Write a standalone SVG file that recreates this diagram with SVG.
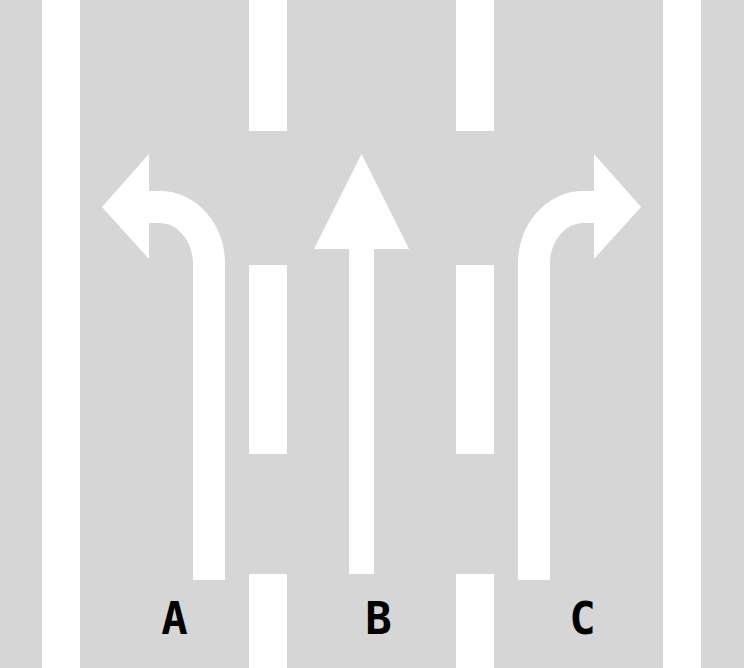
<svg xmlns="http://www.w3.org/2000/svg" width="744" height="668" viewBox="0 0 744 668">
<style>
.m{fill:#fff}
.s{fill:none;stroke:#fff;stroke-width:32}
.lbl{font-family:"DejaVu Sans Mono","Liberation Mono",monospace;font-weight:bold;font-size:44px;fill:#000;text-anchor:middle}
</style>
<rect width="744" height="668" fill="#d6d6d6"/>
<g id="markings">
<rect class="m" x="42" y="0" width="38" height="668"/>
<rect class="m" x="663" y="0" width="38" height="668"/>
<rect class="m" x="249" y="0" width="38" height="131"/>
<rect class="m" x="249" y="265" width="38" height="189"/>
<rect class="m" x="249" y="574" width="38" height="94"/>
<rect class="m" x="456" y="0" width="38" height="131"/>
<rect class="m" x="456" y="265" width="38" height="189"/>
<rect class="m" x="456" y="574" width="38" height="94"/>
</g>
<g id="arrowA">
<path class="s" d="M209,580 V264 A49,57 0 0 0 160,207 H148"/>
<polygon class="m" points="102,207 149,154 149,259"/>
</g>
<g id="arrowB">
<rect class="m" x="349" y="240" width="25" height="334"/>
<polygon class="m" points="361.5,154 409,249 314,249"/>
</g>
<g id="arrowC">
<path class="s" d="M534,580 V264 A49,57 0 0 1 583,207 H595"/>
<polygon class="m" points="641,207 594,154 594,259"/>
</g>
<g id="labels">
<text class="lbl" x="174.5" y="634">A</text>
<text class="lbl" x="378.5" y="634">B</text>
<text class="lbl" x="582.5" y="634">C</text>
</g>
</svg>
